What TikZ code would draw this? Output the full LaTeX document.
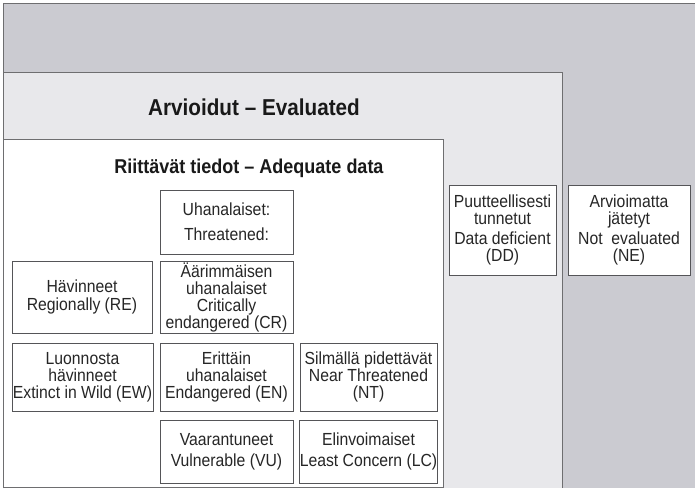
\documentclass[tikz,border=0pt]{standalone}
\usepackage{fontspec}
\setmainfont{Liberation Sans}[FakeStretch=0.9]
\definecolor{outergray}{RGB}{203,203,209}
\definecolor{evalgray}{RGB}{232,232,235}
\definecolor{linegray}{RGB}{110,110,112}
\definecolor{boxline}{RGB}{85,85,88}
\begin{document}
\begin{tikzpicture}[x=1pt,y=-1pt,
  cat/.style={draw=boxline, line width=0.8pt, fill=white, align=center, inner sep=0pt,
    font=\fontsize{17.5}{17}\selectfont, text=black!85},
  heading/.style={font=\bfseries\fontsize{23}{25}\selectfont, text=black!90, inner sep=0pt},
  subheading/.style={font=\bfseries\fontsize{20}{22}\selectfont, text=black!90, inner sep=0pt}]
\useasboundingbox (0,0) rectangle (695,488);
% outer (all) region
\fill[outergray] (3,3) rectangle (695,488);
\draw[linegray, line width=0.8pt] (3,488) -- (3,3) -- (695,3);
% evaluated region
\fill[evalgray] (3,72) rectangle (562,488);
\draw[linegray, line width=0.8pt] (3,488) -- (3,72) -- (562,72) -- (562,488);
% adequate data region
\fill[white] (3,139) rectangle (443,487);
\draw[linegray, line width=0.8pt] (3,139) rectangle (443,487);
% headings
\node[heading] (evalhead) at (254,107) {Arvioidut – Evaluated};
\node[subheading] (adqhead) at (249,168) {Riittävät tiedot – Adequate data};
% category boxes
\node[cat, minimum width=133pt, minimum height=64pt] (th) at (226.5,222) {Uhanalaiset:\\[8pt]Threatened:};
\node[cat, minimum width=140pt, minimum height=72pt] (re) at (82,297) {Hävinneet\\[1pt]Regionally (RE)};
\node[cat, minimum width=133pt, minimum height=72pt] (cr) at (226.5,297) {Äärimmäisen\\uhanalaiset\\Critically\\endangered (CR)};
\node[cat, minimum width=141pt, minimum height=68pt] (ew) at (82.5,377) {Luonnosta\\hävinneet\\Extinct in Wild (EW)};
\node[cat, minimum width=133pt, minimum height=68pt] (en) at (226.5,377) {Erittäin\\uhanalaiset\\Endangered (EN)};
\node[cat, minimum width=137pt, minimum height=68pt] (nt) at (368.5,377) {Silmällä pidettävät\\Near Threatened\\(NT)};
\node[cat, minimum width=133pt, minimum height=63pt] (vu) at (226.5,451.5) {Vaarantuneet\\[4pt]Vulnerable (VU)};
\node[cat, minimum width=137pt, minimum height=63pt] (lc) at (368.5,451.5) {Elinvoimaiset\\[4pt]Least Concern (LC)};
\node[cat, minimum width=107pt, minimum height=90pt] (dd) at (502.5,230) {Puutteellisesti\\tunnetut\\[3pt]Data deficient\\(DD)};
\node[cat, minimum width=122pt, minimum height=90pt] (ne) at (629,230) {Arvioimatta\\jätetyt\\[3pt]Not\ \ evaluated\\(NE)};
\end{tikzpicture}
\end{document}
